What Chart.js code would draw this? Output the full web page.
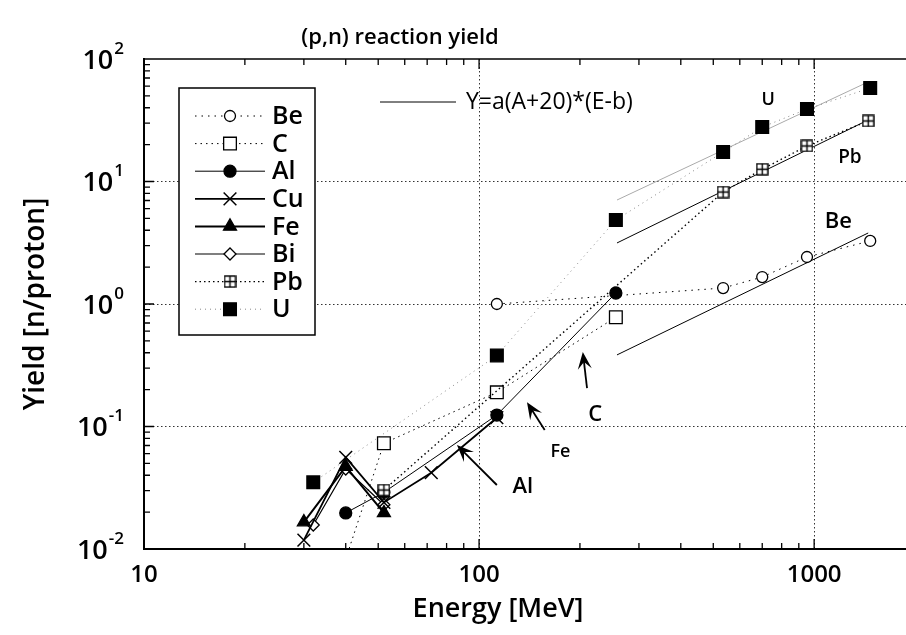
<!DOCTYPE html>
<html>
<head>
<meta charset="utf-8">
<script src="https://cdn.jsdelivr.net/npm/chart.js@4.4.1/dist/chart.umd.min.js"></script>
<style>
  html, body { margin: 0; padding: 0; background: #fff; }
</style>
</head>
<body>
<canvas id="yieldChart" width="906" height="635"></canvas>
<script>
// proton energy [MeV] / neutron yield [n/proton] per target
var beE = [113, 535, 700, 952, 1470];
var beY = [1.0, 1.35, 1.66, 2.42, 3.27];
var cE = [40, 52, 113, 256];
var cY = [0.0083, 0.073, 0.19, 0.78];
var alE = [40, 52, 113, 256];
var alY = [0.0197, 0.029, 0.124, 1.23];
var cuE = [30, 40, 52, 72, 113];
var cuY = [0.0118, 0.056, 0.024, 0.042, 0.118];
var feE = [30, 40, 52];
var feY = [0.0166, 0.047, 0.0197];
var biE = [32, 40, 52];
var biY = [0.0157, 0.045, 0.023];
var pbE = [52, 535, 700, 952, 1450];
var pbY = [0.0303, 8.2, 12.6, 19.5, 31.2];
var uE = [32, 113, 256, 535, 700, 952, 1470];
var uY = [0.035, 0.38, 4.85, 17.4, 27.8, 39, 58];

// Y=a(A+20)*(E-b) fits
var fitE = [258, 1450];
var beFitY = [0.384, 3.8];
var pbFitY = [3.15, 31.8];
var uFitY = [7.06, 65];

var xTicks = [10, 100, 1000];
var yTicks = [0.01, 0.1, 1, 10, 100];
var yTickExp = ['-2', '-1', '0', '1', '2'];

var FONT = "'Open Sans', 'DejaVu Sans', sans-serif";

function pts(xs, ys) {
  return xs.map(function (x, i) { return { x: x, y: ys[i] }; });
}

function makePbMarker(size) {
  var c = document.createElement('canvas');
  c.width = size; c.height = size;
  var g = c.getContext('2d');
  g.fillStyle = '#fff';
  g.fillRect(1, 1, size - 2, size - 2);
  g.strokeStyle = '#000';
  g.lineWidth = 1.4;
  g.strokeRect(1, 1, size - 2, size - 2);
  g.beginPath();
  g.moveTo(size / 2, 1); g.lineTo(size / 2, size - 1);
  g.moveTo(1, size / 2); g.lineTo(size - 1, size / 2);
  g.stroke();
  return c;
}
var pbMarker = makePbMarker(13);

function series(label, xs, ys, o) {
  return Object.assign({
    label: label,
    data: pts(xs, ys),
    borderColor: '#000',
    backgroundColor: '#000',
    pointBorderColor: '#000',
    pointBackgroundColor: '#000',
    borderWidth: 1,
    pointBorderWidth: 1.3,
    tension: 0,
    fill: false
  }, o);
}

var datasets = [
  series('Be', beE, beY, { borderDash: [1.5, 5], pointStyle: 'circle', pointRadius: 5.5, pointBackgroundColor: '#fff' }),
  series('C', cE, cY, { borderDash: [1.5, 4], pointStyle: 'rect', pointRadius: 9, pointBackgroundColor: '#fff', clip: 0 }),
  series('Al', alE, alY, { pointStyle: 'circle', pointRadius: 6 }),
  series('Cu', cuE, cuY, { borderWidth: 1.8, pointStyle: 'crossRot', pointRadius: 9, pointBorderWidth: 1.5 }),
  series('Fe', feE, feY, { borderWidth: 2, pointStyle: 'triangle', pointRadius: 7.5 }),
  series('Bi', biE, biY, { borderWidth: 1.2, pointStyle: 'rectRot', pointRadius: 6, pointBackgroundColor: '#fff' }),
  series('Pb', pbE, pbY, { borderDash: [1.5, 3], borderWidth: 1.4, pointStyle: pbMarker, pointRadius: 7, order: -1 }),
  series('U', uE, uY, { borderDash: [1, 4], borderColor: '#888', pointStyle: 'rect', pointRadius: 9 }),
  series('fitBe', fitE, beFitY, { pointRadius: 0 }),
  series('fitPb', fitE, pbFitY, { pointRadius: 0 }),
  series('fitU', fitE, uFitY, { pointRadius: 0, borderColor: '#aaa' })
];

// text labels and arrows placed in data units
var notes = [
  { text: 'U', x: 729, y: 46, size: 18 },
  { text: 'Pb', x: 1279, y: 15.6, size: 19 },
  { text: 'Be', x: 1180, y: 4.67, size: 22 },
  { text: 'C', x: 222, y: 0.124, size: 22 },
  { text: 'Fe', x: 175, y: 0.062, size: 18 },
  { text: 'Al', x: 135, y: 0.032, size: 22 }
];
var arrows = [
  { from: [113, 0.0333], to: [85.9, 0.0706] },
  { from: [157, 0.0935], to: [139, 0.158] },
  { from: [210, 0.206], to: [204, 0.405] }
];

var decor = {
  id: 'decor',
  afterDraw: function (chart) {
    var ctx = chart.ctx, a = chart.chartArea;
    var xs = chart.scales.x, ys = chart.scales.y;
    ctx.save();

    // title
    ctx.fillStyle = '#000';
    ctx.font = '600 22px ' + FONT;
    ctx.textAlign = 'center';
    ctx.textBaseline = 'middle';
    ctx.fillText('(p,n) reaction yield', 400, 38);

    // x axis title
    ctx.font = '600 27px ' + FONT;
    ctx.fillText('Energy [MeV]', 498, 609);

    // y tick labels with raised exponent
    yTicks.forEach(function (v, i) {
      var py = ys.getPixelForValue(v);
      ctx.font = '600 17px ' + FONT;
      ctx.textAlign = 'right';
      var ew = ctx.measureText(yTickExp[i]).width;
      ctx.fillText(yTickExp[i], 124, py - 10);
      ctx.font = '600 27px ' + FONT;
      ctx.fillText('10', 124 - ew - 1, py + 2);
    });

    // top frame line
    ctx.strokeStyle = '#000';
    ctx.lineWidth = 1.5;
    ctx.beginPath();
    ctx.moveTo(a.left, a.top); ctx.lineTo(a.right, a.top);
    ctx.stroke();

    // inward ticks
    ctx.lineWidth = 1.3;
    ctx.beginPath();
    for (var d = 10; d < 2000; d *= 10) {
      for (var m = 1; m < 10; m++) {
        var v = d * m;
        if (v <= xs.min || v >= xs.max) continue;
        var px = xs.getPixelForValue(v);
        var len = m === 1 ? 10 : 6;
        ctx.moveTo(px, a.bottom); ctx.lineTo(px, a.bottom - len);
        ctx.moveTo(px, a.top); ctx.lineTo(px, a.top + len);
      }
    }
    for (var dy = 0.01; dy < 100; dy *= 10) {
      for (var k = 1; k < 10; k++) {
        var vy = dy * k;
        if (vy <= ys.min || vy >= ys.max) continue;
        var py = ys.getPixelForValue(vy);
        var ln = k === 1 ? 10 : 6;
        ctx.moveTo(a.left, py); ctx.lineTo(a.left + ln, py);
      }
    }
    ctx.stroke();

    // legend box
    ctx.lineWidth = 1.5;
    ctx.strokeStyle = '#000';
    ctx.fillStyle = '#fff';
    ctx.fillRect(179, 88, 136, 247);
    ctx.strokeRect(179, 88, 136, 247);
    ctx.font = '600 25px ' + FONT;
    ctx.textAlign = 'left';
    for (var i = 0; i < 8; i++) {
      var ds = chart.data.datasets[i];
      var yy = 116 + i * 27.6;
      ctx.save();
      ctx.strokeStyle = ds.borderColor;
      ctx.lineWidth = ds.borderWidth;
      ctx.setLineDash(ds.borderDash || []);
      ctx.beginPath();
      ctx.moveTo(195, yy); ctx.lineTo(265, yy);
      ctx.stroke();
      ctx.restore();
      ctx.save();
      ctx.fillStyle = ds.pointBackgroundColor;
      ctx.strokeStyle = ds.pointBorderColor;
      ctx.lineWidth = ds.pointBorderWidth;
      if (ds.pointStyle instanceof HTMLCanvasElement) {
        ctx.drawImage(ds.pointStyle, 230 - ds.pointStyle.width / 2, yy - ds.pointStyle.height / 2);
      } else if (Chart.helpers && Chart.helpers.drawPoint) {
        Chart.helpers.drawPoint(ctx, { pointStyle: ds.pointStyle, rotation: 0, radius: ds.pointRadius, borderWidth: ds.pointBorderWidth }, 230, yy);
      }
      ctx.restore();
      ctx.fillStyle = '#000';
      ctx.fillText(ds.label, 272, yy + 1);
    }

    // formula key
    ctx.lineWidth = 1;
    ctx.beginPath();
    ctx.moveTo(380, 102); ctx.lineTo(456, 102);
    ctx.stroke();
    ctx.font = '500 23px ' + FONT;
    ctx.fillText('Y=a(A+20)*(E-b)', 466, 102);

    // notes
    ctx.textAlign = 'center';
    notes.forEach(function (n) {
      ctx.font = '600 ' + n.size + 'px ' + FONT;
      ctx.fillText(n.text, xs.getPixelForValue(n.x), ys.getPixelForValue(n.y));
    });

    // arrows
    ctx.lineWidth = 1.8;
    arrows.forEach(function (ar) {
      var x1 = xs.getPixelForValue(ar.from[0]), y1 = ys.getPixelForValue(ar.from[1]);
      var x2 = xs.getPixelForValue(ar.to[0]), y2 = ys.getPixelForValue(ar.to[1]);
      var ang = Math.atan2(y2 - y1, x2 - x1);
      var c = Math.cos(ang), s = Math.sin(ang);
      ctx.beginPath();
      ctx.moveTo(x1, y1); ctx.lineTo(x2 - 6 * c, y2 - 6 * s);
      ctx.stroke();
      ctx.beginPath();
      ctx.moveTo(x2, y2);
      ctx.lineTo(x2 - 17 * c + 7 * s, y2 - 17 * s - 7 * c);
      ctx.lineTo(x2 - 10 * c, y2 - 10 * s);
      ctx.lineTo(x2 - 17 * c - 7 * s, y2 - 17 * s + 7 * c);
      ctx.closePath();
      ctx.fill();
    });

    ctx.restore();
  }
};

var chart = new Chart(document.getElementById('yieldChart').getContext('2d'), {
  type: 'line',
  data: { datasets: datasets },
  options: {
    responsive: false,
    animation: false,
    events: [],
    layout: { autoPadding: false, padding: { top: 59, left: 0, right: 0, bottom: 0 } },
    plugins: { legend: { display: false }, tooltip: { enabled: false } },
    scales: {
      x: {
        type: 'logarithmic',
        min: 10,
        max: 1880,
        afterBuildTicks: function (s) { s.ticks = xTicks.map(function (v) { return { value: v }; }); },
        afterFit: function (s) { s.height = 86; s.paddingLeft = 0; s.paddingRight = 0; },
        ticks: {
          autoSkip: false, maxRotation: 0, padding: 12, color: '#000',
          font: { family: FONT, size: 24, weight: '600' },
          callback: function (v) { return String(v); }
        },
        grid: {
          drawTicks: false, lineWidth: 1,
          color: function (c) { return c.tick && c.tick.value > 10 ? '#333' : 'rgba(0,0,0,0)'; }
        },
        border: { display: true, color: '#000', width: 2, dash: [1.5, 2.5] },
        title: { display: false, text: 'Energy [MeV]' }
      },
      y: {
        type: 'logarithmic',
        min: 0.01,
        max: 100,
        afterBuildTicks: function (s) { s.ticks = yTicks.map(function (v) { return { value: v }; }); },
        afterFit: function (s) { s.width = 144; s.paddingTop = 0; s.paddingBottom = 0; },
        ticks: { display: false },
        grid: {
          drawTicks: false, lineWidth: 1,
          color: function (c) { return c.tick && c.tick.value > 0.01 && c.tick.value < 100 ? '#333' : 'rgba(0,0,0,0)'; }
        },
        border: { display: true, color: '#000', width: 2, dash: [1.5, 2.5] },
        title: { display: true, text: 'Yield [n/proton]', color: '#000', font: { family: FONT, size: 28, weight: '600' }, padding: { top: 19, bottom: 0 } }
      }
    }
  },
  plugins: [decor]
});
</script>
</body>
</html>
